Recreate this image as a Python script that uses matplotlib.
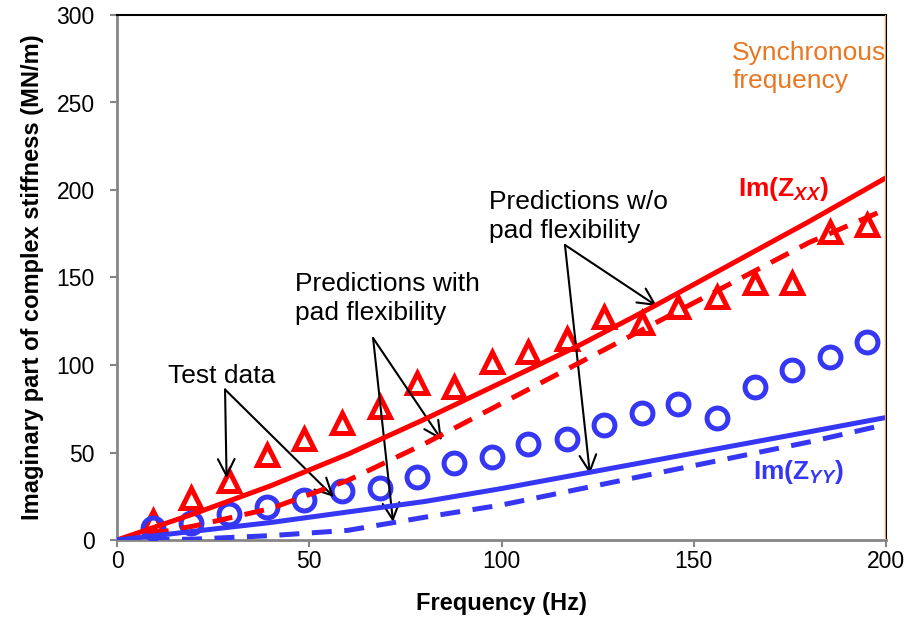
import matplotlib
matplotlib.use("Agg")
import matplotlib.pyplot as plt

plt.rcParams["font.family"] = ["Liberation Sans", "DejaVu Sans"]
plt.rcParams["mathtext.fontset"] = "custom"
plt.rcParams["mathtext.rm"] = "Liberation Sans"
plt.rcParams["mathtext.it"] = "Liberation Sans:italic"
plt.rcParams["mathtext.bf"] = "Liberation Sans:bold"
plt.rcParams["mathtext.bfit"] = "Liberation Sans:bold:italic"

# test data (Hz, MN/m)
freq_test = [9.4, 19.2, 29, 39, 48.6, 58.5, 68.4, 78, 87.6, 97.5,
             107, 117, 126.7, 136.5, 146, 156, 166, 175.5, 185.4, 195]
zxx_test = [11, 24, 34, 48.6, 58, 67, 76, 89.7, 87.6, 102,
            107.5, 115, 127.5, 124, 133, 139, 147, 147, 176, 180]
zyy_test = [6.9, 9.7, 14.9, 19, 22.9, 28, 30, 36, 44, 47.4,
            55, 58, 66, 72.5, 77.7, 69.7, 87.4, 97, 104.6, 113]

# predictions
freq_pred = [0, 20, 40, 60, 80, 100, 120, 140, 160, 180, 200]
zxx_rigid = [0, 15, 31, 49, 69, 90, 111, 134, 158, 182, 207]
zxx_flex = [0, 8, 18, 34, 55, 78, 101, 124, 147, 170, 189]
zyy_rigid = [0, 5, 10, 16, 22, 29.4, 37.5, 45.6, 53.7, 61.8, 70]
zyy_flex = [0, 0.5, 2.5, 5.5, 13, 20, 29, 38, 47, 56, 66]

sync_freq = 200
xticks = [0, 50, 100, 150, 200]
yticks = [0, 50, 100, 150, 200, 250, 300]

RED = "#FF0000"
BLUE = "#3636F5"
ORANGE_LINE = "#F79646"
ORANGE_TXT = "#E87722"
GRAY = "#868686"

fig = plt.figure(figsize=(9.11, 6.25), dpi=100)
ax = fig.add_axes([117 / 911, 1 - 540 / 625, (886 - 117) / 911, (540 - 15) / 625])

ax.plot(freq_test, zxx_test, ls="none", marker="^", ms=14, mfc="none",
        mec=RED, mew=3.6, zorder=3)
ax.plot(freq_test, zyy_test, ls="none", marker="o", ms=15, mfc="none",
        mec=BLUE, mew=3.6, zorder=3)

ax.plot(freq_pred, zxx_rigid, color=RED, lw=3.6, zorder=4)
ax.plot(freq_pred, zxx_flex, color=RED, lw=3.6, dashes=(4, 2.5), zorder=4)
ax.plot(freq_pred, zyy_rigid, color=BLUE, lw=3.6, zorder=4)
ax.plot(freq_pred, zyy_flex, color=BLUE, lw=3.6, dashes=(4, 2.5), zorder=4)

ax.axvline(sync_freq, color=ORANGE_LINE, lw=2.2, zorder=5)

ax.set_xlim(0, 200)
ax.set_ylim(0, 300)
ax.set_xticks(xticks)
ax.set_yticks(yticks)
ax.tick_params(axis="both", direction="out", length=5, width=1.5,
               color=GRAY, labelsize=16.5)
ax.tick_params(axis="x", pad=2)
ax.tick_params(axis="y", pad=11)
for s in ("left", "bottom"):
    ax.spines[s].set_color(GRAY)
    ax.spines[s].set_linewidth(2)
for s in ("top", "right"):
    ax.spines[s].set_color("black")
    ax.spines[s].set_linewidth(1.5)

ax.set_xlabel("Frequency (Hz)", fontsize=17, fontweight="bold", labelpad=14)
ax.set_ylabel("Imaginary part of complex stiffness (MN/m)", fontsize=17,
              fontweight="bold", labelpad=9)

arrow = dict(arrowstyle="->", color="black", lw=1.5, mutation_scale=30,
             shrinkA=0, shrinkB=0)
fs = 19

ax.text(13.3, 93.7, "Test data", fontsize=fs, va="center", ha="left")
for tip in [(28.5, 35.4), (56.4, 24.6)]:
    ax.annotate("", xy=tip, xytext=(28.1, 86), arrowprops=arrow)

ax.text(46.3, 138, "Predictions with\npad flexibility", fontsize=fs,
        va="center", ha="left", linespacing=1.25)
for tip in [(84.5, 57), (71.8, 10.3)]:
    ax.annotate("", xy=tip, xytext=(66.6, 115.4), arrowprops=arrow)

ax.text(96.7, 185, "Predictions w/o\npad flexibility", fontsize=fs,
        va="center", ha="left", linespacing=1.25)
for tip in [(140.4, 133.7), (123, 37.7)]:
    ax.annotate("", xy=tip, xytext=(116.5, 168.6), arrowprops=arrow)

ax.text(160, 270.5, "Synchronous\nfrequency", fontsize=fs, color=ORANGE_TXT,
        va="center", ha="left", linespacing=1.2)

ax.text(161.5, 200.5, r"$\mathbf{Im(Z}_{\mathbfit{XX}}\mathbf{)}$",
        fontsize=fs, color=RED, va="center", ha="left")
ax.text(165.5, 39, r"$\mathbf{Im(Z}_{\mathbfit{YY}}\mathbf{)}$",
        fontsize=fs, color=BLUE, va="center", ha="left")

fig.savefig("out.png", dpi=100)
